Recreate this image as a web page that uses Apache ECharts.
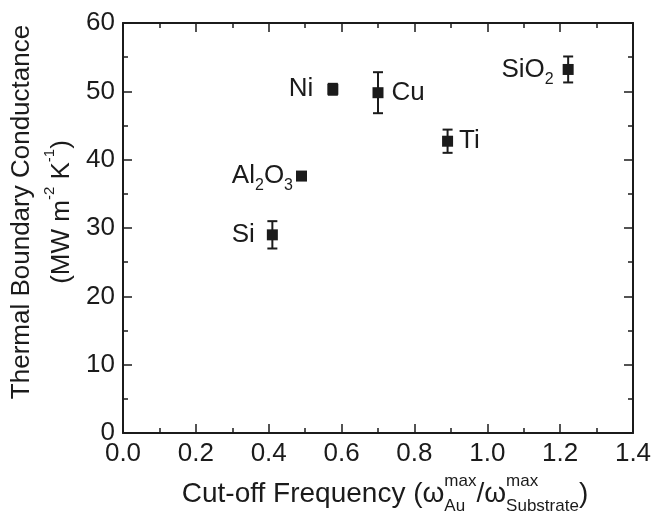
<!DOCTYPE html>
<html>
<head>
    <meta charset="UTF-8">
    <title>Thermal Boundary Conductance</title>
    <script src="https://cdn.jsdelivr.net/npm/echarts@6/dist/echarts.min.js"></script>
    <style>
        body {
            padding: 0;
            margin: 0;
            overflow: hidden;
            background: #fff;
        }
        #chart {
            width: 666px;
            height: 513px;
        }
    </style>
</head>
<body>
<div id="chart"></div>

<script>
    // values
    const materials = ['Si', 'Al2O3', 'Ni', 'Cu', 'Ti', 'SiO2'];
    const labelText = ['{n|Si}', '{n|Al}{s|2}{n|O}{s|3}', '{n|Ni}', '{n|Cu}', '{n|Ti}', '{n|SiO}{s|2}'];
    const labelSide = ['left', 'left', 'left', 'right', 'right', 'left'];
    const cutoff = [0.41, 0.49, 0.576, 0.70, 0.891, 1.222];
    const conductance = [29.0, 37.6, 50.3, 49.8, 42.7, 53.2];
    const errors = [2.0, 0.3, 0.8, 3.0, 1.7, 1.9];

    const xTicks = {min: 0, max: 1.4, interval: 0.2};
    const yTicks = {min: 0, max: 60, interval: 10};

    // label gap from marker, px
    const labelGap = [12, 3, 14, 8, 6, 9];

    const ink = '#1b1b1b';
    const font = 'Liberation Sans';

    const ec = echarts.init(document.getElementById('chart'));

    const points = materials.map((m, i) => ({
        name: m,
        value: [cutoff[i], conductance[i]],
        label: {
            position: labelSide[i],
            distance: labelGap[i],
            formatter: labelText[i]
        }
    }));
    const bars = materials.map((m, i) => [cutoff[i], conductance[i] - errors[i], conductance[i] + errors[i]]);

    const labelRich = {
        n: {fontSize: 26, fontFamily: font, color: ink, lineHeight: 36, verticalAlign: 'middle'},
        s: {fontSize: 16, fontFamily: font, color: ink, lineHeight: 14, verticalAlign: 'bottom'}
    };

    // text width, for stacking a superscript over a subscript
    const measureCtx = document.createElement('canvas').getContext('2d');
    function textW(s, size) {
        measureCtx.font = size + 'px "' + font + '"';
        return measureCtx.measureText(s).width;
    }

    const smallSize = 17;
    const xRich = {
        t: {fontSize: 28, fontFamily: font, color: ink, lineHeight: 42, verticalAlign: 'middle'}
    };
    // fixed-width tokens get their text centred in the box, so pad around 1px boxes
    function stacked(sup, sub, id) {
        const items = [
            {txt: sup, w: textW(sup, smallSize), lh: 26, va: 'top'},
            {txt: sub, w: textW(sub, smallSize), lh: 10, va: 'bottom'}
        ].sort((a, b) => a.w - b.w);
        const A = items[0], B = items[1];
        const gap = w => ({width: Math.max(w, 0), fontSize: 4, lineHeight: 4});
        const tok = it => ({fontSize: smallSize, fontFamily: font, color: ink, lineHeight: it.lh, verticalAlign: it.va, width: 1});
        xRich[id + 'ga'] = gap(A.w / 2 - 0.5);
        xRich[id + 'a'] = tok(A);
        xRich[id + 'gb'] = gap(B.w / 2 - A.w / 2 - 1);
        xRich[id + 'b'] = tok(B);
        xRich[id + 'gc'] = gap(B.w / 2 - 0.5);
        return `{${id}ga| }{${id}a|${A.txt}}{${id}gb| }{${id}b|${B.txt}}{${id}gc| }`;
    }

    function frameAxis(pos, range, show) {
        return {
            type: 'value',
            position: pos,
            min: range.min,
            max: range.max,
            interval: range.interval,
            axisLine: {show: true, onZero: false, lineStyle: {color: ink, width: 2}},
            axisTick: {show: true, inside: true, length: 9, lineStyle: {color: ink, width: 1.5}},
            minorTick: {show: true, splitNumber: 2, length: 5, lineStyle: {color: ink, width: 1.5}},
            splitLine: {show: false},
            axisLabel: {
                show: show,
                fontSize: 26,
                fontFamily: font,
                color: ink,
                margin: 8,
                formatter: v => range.interval < 1 ? v.toFixed(1) : String(v)
            }
        };
    }

    const xMain = frameAxis('bottom', xTicks, true);
    xMain.name = '{t|Cut-off Frequency (ω}' + stacked('max', 'Au', 'au') +
        '{t|/ω}' + stacked('max', 'Substrate', 'su') + '{t|)}';
    xMain.nameLocation = 'middle';
    xMain.nameGap = 40;
    xMain.nameTextStyle = {
        padding: [0, 0, 0, 14],
        rich: xRich
    };

    const yMain = frameAxis('left', yTicks, true);
    yMain.name = '{t|Thermal Boundary Conductance}\n{t|(MW m}{p|-2}{t| K}{p|-1}{t|)}';
    yMain.nameLocation = 'middle';
    yMain.nameRotate = 90;
    yMain.nameGap = 25;
    yMain.nameTextStyle = {
        padding: [0, 0, 0, 32],
        rich: {
            t: {fontSize: 26, fontFamily: font, color: ink, lineHeight: 40, verticalAlign: 'middle'},
            p: {fontSize: 15, fontFamily: font, color: ink, lineHeight: 26, verticalAlign: 'top'}
        }
    };

    const option = {
        animation: false,
        backgroundColor: '#fff',
        grid: {left: 123, right: 33, top: 23, bottom: 80, outerBoundsMode: 'none', containLabel: false},
        xAxis: [xMain, frameAxis('top', xTicks, false)],
        yAxis: [yMain, frameAxis('right', yTicks, false)],
        series: [
            {
                type: 'custom',
                xAxisIndex: 0,
                yAxisIndex: 0,
                data: bars,
                z: 3,
                renderItem: function (params, api) {
                    const x = api.value(0);
                    const lo = api.coord([x, api.value(1)]);
                    const hi = api.coord([x, api.value(2)]);
                    const cap = 5;
                    const st = {stroke: ink, lineWidth: 2};
                    return {
                        type: 'group',
                        children: [
                            {type: 'line', shape: {x1: lo[0], y1: lo[1], x2: hi[0], y2: hi[1]}, style: st},
                            {type: 'line', shape: {x1: lo[0] - cap, y1: lo[1], x2: lo[0] + cap, y2: lo[1]}, style: st},
                            {type: 'line', shape: {x1: hi[0] - cap, y1: hi[1], x2: hi[0] + cap, y2: hi[1]}, style: st}
                        ]
                    };
                }
            },
            {
                type: 'scatter',
                xAxisIndex: 0,
                yAxisIndex: 0,
                symbol: 'rect',
                symbolSize: 11,
                z: 4,
                itemStyle: {color: ink, opacity: 1},
                label: {
                    show: true,
                    rich: labelRich
                },
                data: points
            }
        ]
    };

    ec.setOption(option);
</script>
</body>
</html>
